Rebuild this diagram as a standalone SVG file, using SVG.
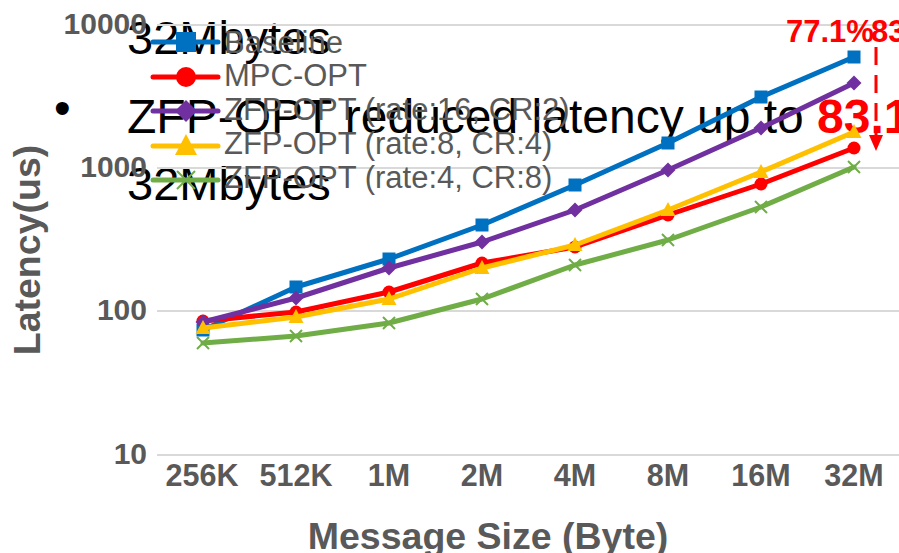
<svg xmlns="http://www.w3.org/2000/svg" width="899" height="553" viewBox="0 0 899 553">
  <style>
    .ovl { font-family: "Liberation Sans", Arial, sans-serif; fill: #000; }
    .ax { font-family: "Liberation Sans", Arial, sans-serif; font-weight: bold; fill: #595959; }
    .tick { font-size: 30.5px; }
    .ylab { font-size: 30px; text-anchor: end; }
    .title { font-size: 37.5px; text-anchor: middle; }
    .leg { font-family: "Liberation Sans", Arial, sans-serif; font-size: 31px; fill: #595959; }
    .grid { stroke: #D9D9D9; stroke-width: 2; }
    .s { fill: none; stroke-width: 5; stroke-linejoin: round; stroke-linecap: round; }
    .red { font-family: "Liberation Sans", Arial, sans-serif; font-weight: bold; fill: #FF0000; }
  </style>
  <defs>
    <rect id="sq" x="-6.5" y="-6.5" width="13" height="13" fill="#0070C0"/>
    <circle id="ci" r="6.5" fill="#FF0000"/>
    <polygon id="di" points="0,-7.5 7.5,0 0,7.5 -7.5,0" fill="#7030A0"/>
    <polygon id="tr" points="0,-8 7.5,6 -7.5,6" fill="#FFC000"/>
    <path id="xx" d="M-6,-6 L6,6 M-6,6 L6,-6" stroke="#70AD47" stroke-width="2"/>
  </defs>

  <!-- slide text behind the chart -->
  <g id="slide-text">
    <text class="ovl" x="127" y="54" font-size="47">32Mbytes</text>
    <text class="ovl" x="54" y="124" font-size="47.5">•</text>
    <text class="ovl" x="127" y="133" font-size="48">ZFP-OPT reduced latency up to </text>
    <text class="red" x="817" y="133" font-size="48">83.1</text>
    <text class="ovl" x="127" y="200" font-size="47">32Mbytes</text>
  </g>

  <!-- gridlines -->
  <g id="grid">
    <line class="grid" x1="157" y1="25" x2="899" y2="25"/>
    <line class="grid" x1="157" y1="168" x2="899" y2="168"/>
    <line class="grid" x1="157" y1="311" x2="899" y2="311"/>
    <line class="grid" x1="157" y1="455" x2="899" y2="455"/>
  </g>

  <!-- axes labels -->
  <g id="y-axis" class="ax">
    <text class="ylab" x="147" y="33.5">10000</text>
    <text class="ylab" x="147" y="176.5">1000</text>
    <text class="ylab" x="147" y="319.5">100</text>
    <text class="ylab" x="147" y="463.5">10</text>
    <text class="title" transform="translate(40,250) rotate(-90)">Latency(us)</text>
  </g>
  <g id="x-axis" class="ax" text-anchor="middle">
    <text class="tick" x="202" y="486">256K</text>
    <text class="tick" x="296" y="486">512K</text>
    <text class="tick" x="389" y="486">1M</text>
    <text class="tick" x="482" y="486">2M</text>
    <text class="tick" x="575" y="486">4M</text>
    <text class="tick" x="668" y="486">8M</text>
    <text class="tick" x="761" y="486">16M</text>
    <text class="tick" x="854" y="486">32M</text>
    <text class="title" x="488" y="549">Message Size (Byte)</text>
  </g>

  <!-- data series -->
  <g id="connectors">
    <g id="baseline">
      <polyline class="s" stroke="#0070C0" points="203,330 296,287 389,259 482,225 575,185 668,143 761,97 854,57"/>
      <use href="#sq" x="203" y="330"/><use href="#sq" x="296" y="287"/><use href="#sq" x="389" y="259"/><use href="#sq" x="482" y="225"/>
      <use href="#sq" x="575" y="185"/><use href="#sq" x="668" y="143"/><use href="#sq" x="761" y="97"/><use href="#sq" x="854" y="57"/>
    </g>
    <g id="mpc-opt">
      <polyline class="s" stroke="#FF0000" points="203,321 296,312 389,292 482,263 575,247 668,215 761,184 854,148"/>
      <use href="#ci" x="203" y="321"/><use href="#ci" x="296" y="312"/><use href="#ci" x="389" y="292"/><use href="#ci" x="482" y="263"/>
      <use href="#ci" x="575" y="247"/><use href="#ci" x="668" y="215"/><use href="#ci" x="761" y="184"/><use href="#ci" x="854" y="148"/>
    </g>
    <g id="zfp-16">
      <polyline class="s" stroke="#7030A0" points="203,322 296,298 389,268 482,242 575,210 668,170 761,128 854,83"/>
      <use href="#di" x="203" y="322"/><use href="#di" x="296" y="298"/><use href="#di" x="389" y="268"/><use href="#di" x="482" y="242"/>
      <use href="#di" x="575" y="210"/><use href="#di" x="668" y="170"/><use href="#di" x="761" y="128"/><use href="#di" x="854" y="83"/>
    </g>
    <g id="zfp-8">
      <polyline class="s" stroke="#FFC000" points="203,328 296,317 389,299 482,268 575,245 668,210 761,172 854,132"/>
      <use href="#tr" x="203" y="328"/><use href="#tr" x="296" y="317"/><use href="#tr" x="389" y="299"/><use href="#tr" x="482" y="268"/>
      <use href="#tr" x="575" y="245"/><use href="#tr" x="668" y="210"/><use href="#tr" x="761" y="172"/><use href="#tr" x="854" y="132"/>
    </g>
    <g id="zfp-4">
      <polyline class="s" stroke="#70AD47" stroke-width="4.5" points="203,343 296,336 389,323 482,299 575,265 668,240 761,207 854,167"/>
      <use href="#xx" x="203" y="343"/><use href="#xx" x="296" y="336"/><use href="#xx" x="389" y="323"/><use href="#xx" x="482" y="299"/>
      <use href="#xx" x="575" y="265"/><use href="#xx" x="668" y="240"/><use href="#xx" x="761" y="207"/><use href="#xx" x="854" y="167"/>
    </g>
  </g>

  <!-- legend -->
  <g id="legend">
    <line x1="153" y1="42" x2="218" y2="42" stroke="#0070C0" stroke-width="5" stroke-linecap="round"/>
    <rect x="176" y="32" width="20" height="20" fill="#0070C0"/>
    <text class="leg" x="224" y="53">Baseline</text>
    <line x1="153" y1="77" x2="218" y2="77" stroke="#FF0000" stroke-width="5" stroke-linecap="round"/>
    <circle cx="186" cy="77" r="10" fill="#FF0000"/>
    <text class="leg" x="224" y="86">MPC-OPT</text>
    <line x1="153" y1="111" x2="218" y2="111" stroke="#7030A0" stroke-width="5" stroke-linecap="round"/>
    <polygon points="186,100 197,111 186,122 175,111" fill="#7030A0"/>
    <text class="leg" x="224" y="120">ZFP-OPT (rate:16, CR:2)</text>
    <line x1="153" y1="146" x2="218" y2="146" stroke="#FFC000" stroke-width="5" stroke-linecap="round"/>
    <polygon points="186,134 197,155 175,155" fill="#FFC000"/>
    <text class="leg" x="224" y="154">ZFP-OPT (rate:8, CR:4)</text>
    <line x1="153" y1="180" x2="218" y2="180" stroke="#70AD47" stroke-width="5" stroke-linecap="round"/>
    <path d="M177,171 L195,189 M177,189 L195,171" stroke="#70AD47" stroke-width="2"/>
    <text class="leg" x="224" y="188">ZFP-OPT (rate:4, CR:8)</text>
  </g>

  <!-- annotation -->
  <g id="annotation">
    <text class="red" x="786" y="42" font-size="31">77.1%</text>
    <text class="red" x="871" y="42" font-size="31">83</text>
    <line x1="876" y1="47" x2="876" y2="137" stroke="#FF0000" stroke-width="3" stroke-dasharray="18 10"/>
    <polygon points="869,135 883,135 876,151" fill="#FF0000"/>
  </g>
</svg>
